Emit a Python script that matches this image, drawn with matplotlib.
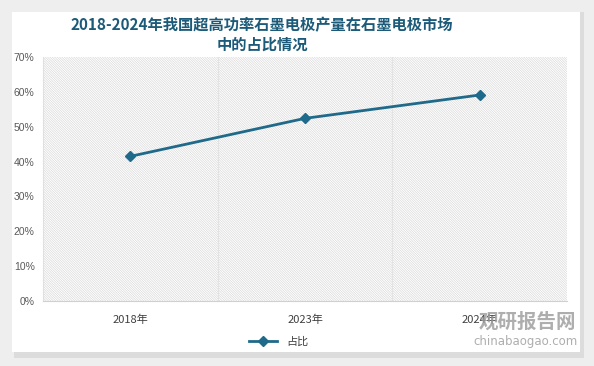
import matplotlib
matplotlib.use("Agg")
import matplotlib.pyplot as plt
from matplotlib.patches import Rectangle

plt.rcParams["font.family"] = ["Noto Sans CJK SC", "DejaVu Sans"]
plt.rcParams["hatch.linewidth"] = 0.5

years = ["2018年", "2023年", "2024年"]
share = [41.5, 52.4, 59.1]
yticks = [0, 10, 20, 30, 40, 50, 60, 70]

LINE = "#1f6a8a"
TITLE = "#1b5a78"

fig = plt.figure(figsize=(5.94, 3.66), dpi=100, facecolor="#eeeeee")

# white card with soft shadow
W, H = 594, 366
fig.patches.append(Rectangle((14 / W, 8 / H), 570 / W, 346 / H, transform=fig.transFigure,
                             facecolor="#dcdcdc", edgecolor="none", zorder=-10))
fig.patches.append(Rectangle((12 / W, 14 / H), 568 / W, 340 / H, transform=fig.transFigure,
                             facecolor="white", edgecolor="none", zorder=-9))

ax = fig.add_axes([43 / W, 65 / H, 524 / W, 244 / H], zorder=2)
ax.set_facecolor("white")
ax.add_patch(Rectangle((0, 0), 1, 1, transform=ax.transAxes, facecolor="white",
                       edgecolor="#dadada", hatch="\\" * 14, linewidth=0, zorder=0))

x = list(range(len(years)))
ax.plot(x, share, "-D", color=LINE, lw=2, ms=5, label="占比", zorder=3)

ax.set_xlim(-0.5, 2.5)
ax.set_ylim(0, 70)
ax.set_yticks(yticks)
ax.set_yticklabels([f"{v}%" for v in yticks], fontsize=7.5, color="#595959",
                   family=["Liberation Sans", "DejaVu Sans"])
ax.set_xticks(x)
ax.set_xticklabels(years, fontsize=8, color="#404040")
ax.tick_params(length=0, pad=6)
ax.tick_params(axis="x", pad=10)
for xv in (0.5, 1.5):
    ax.axvline(xv, color="#e3e3e3", lw=0.8, zorder=1)
for s in ("top", "right"):
    ax.spines[s].set_visible(False)
ax.spines["left"].set_color("#e0e0e0")
ax.spines["bottom"].set_color("#d0d0d0")

ax.legend(loc="upper center", bbox_to_anchor=(0.45, -0.105), frameon=False,
          fontsize=8, handlelength=2.5, labelcolor="#404040")

fig.text(262 / W, 1 - 25 / H, "2018-2024年我国超高功率石墨电极产量在石墨电极市场",
         ha="center", va="center", fontsize=11, fontweight="bold", color=TITLE)
fig.text(262 / W, 1 - 45 / H, "中的占比情况",
         ha="center", va="center", fontsize=11, fontweight="bold", color=TITLE)

# watermark
fig.text(527 / W, 1 - 322 / H, "观研报告网", ha="center", va="center", fontsize=14,
         fontweight="bold", color="#9a9a9a", alpha=0.8, zorder=5)
fig.text(525 / W, 1 - 342 / H, "chinabaogao.com", ha="center", va="center", fontsize=8.5,
         color="#9a9a9a", alpha=0.8, family=["DejaVu Sans"], zorder=5)

fig.savefig("out.png", dpi=100, facecolor=fig.get_facecolor())
